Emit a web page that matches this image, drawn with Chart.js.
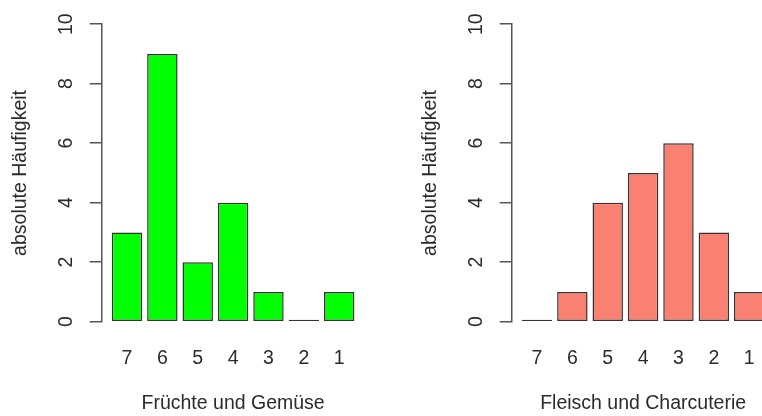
<!DOCTYPE html>
<html>
<head>
<meta charset="utf-8">
<script src="https://cdn.jsdelivr.net/npm/chart.js@4"></script>
<style>
  html, body { margin: 0; padding: 0; background: #fff; overflow: hidden; }
  .panel { position: absolute; top: 0; }
</style>
</head>
<body>
<canvas id="leftChart" class="panel" width="381" height="416" style="left:0"></canvas>
<canvas id="rightChart" class="panel" width="400" height="416" style="left:381px"></canvas>
<script>
const categories = ['7', '6', '5', '4', '3', '2', '1'];
const fruitCounts = [3, 9, 2, 4, 1, 0, 1];
const meatCounts = [0, 1, 4, 5, 6, 3, 1];
const yTicks = [0, 2, 4, 6, 8, 10];
const yTitle = 'absolute Häufigkeit';

const FONT = { family: '"Liberation Sans", Arial, Helvetica, sans-serif', size: 19.5 };
const TEXT = '#2b2b2b';
const AXIS = '#555';

function makePanel(canvasId, values, color, xTitle, padLeft, padRight) {
  const ctx = document.getElementById(canvasId).getContext('2d');
  return new Chart(ctx, {
    type: 'bar',
    data: {
      datasets: [{
        data: values.map((v, i) => ({ x: i, y: v })),
        backgroundColor: color,
        borderColor: '#333',
        borderWidth: 1.5,
        borderSkipped: false,
        minBarLength: 2,
        barPercentage: 0.86,
        categoryPercentage: 1
      }]
    },
    options: {
      responsive: false,
      animation: false,
      devicePixelRatio: 1,
      layout: { padding: { top: 23.3, left: padLeft, right: padRight, bottom: 0 } },
      plugins: { legend: { display: false }, tooltip: { enabled: false } },
      scales: {
        x: {
          type: 'linear',
          offset: false,
          min: -0.715,
          max: 6.715,
          grid: { display: false, offset: false },
          border: { display: false },
          afterBuildTicks: (s) => { s.ticks = categories.map((c, i) => ({ value: i })); },
          afterFit: (s) => { s.height = 416 - 321.7; },
          ticks: {
            autoSkip: false,
            maxRotation: 0,
            padding: 17.5,
            color: TEXT,
            font: FONT,
            callback: (v) => categories[v]
          },
          title: {
            display: true,
            text: xTitle,
            color: TEXT,
            font: FONT,
            padding: { top: 0, bottom: 1 }
          }
        },
        y: {
          min: 0,
          max: 10,
          afterBuildTicks: (s) => { s.ticks = yTicks.map((v) => ({ value: v })); },
          afterFit: (s) => { s.width = 101.7; },
          grid: { drawOnChartArea: false, drawTicks: true, tickLength: 12, color: AXIS, lineWidth: 1.5 },
          border: { display: true, color: AXIS, width: 1.5 },
          ticks: {
            minRotation: 90,
            maxRotation: 90,
            crossAlign: 'center',
            padding: 12.5,
            color: TEXT,
            font: FONT
          },
          title: {
            display: true,
            text: yTitle,
            color: TEXT,
            font: FONT,
            padding: { top: 8.6, bottom: 0 }
          }
        }
      }
    }
  });
}

makePanel('leftChart', fruitCounts, '#00FF00', 'Früchte und Gemüse', 0, 16.5);
makePanel('rightChart', meatCounts, '#FA8072', 'Fleisch und Charcuterie', 29, 6.5);
</script>
</body>
</html>
